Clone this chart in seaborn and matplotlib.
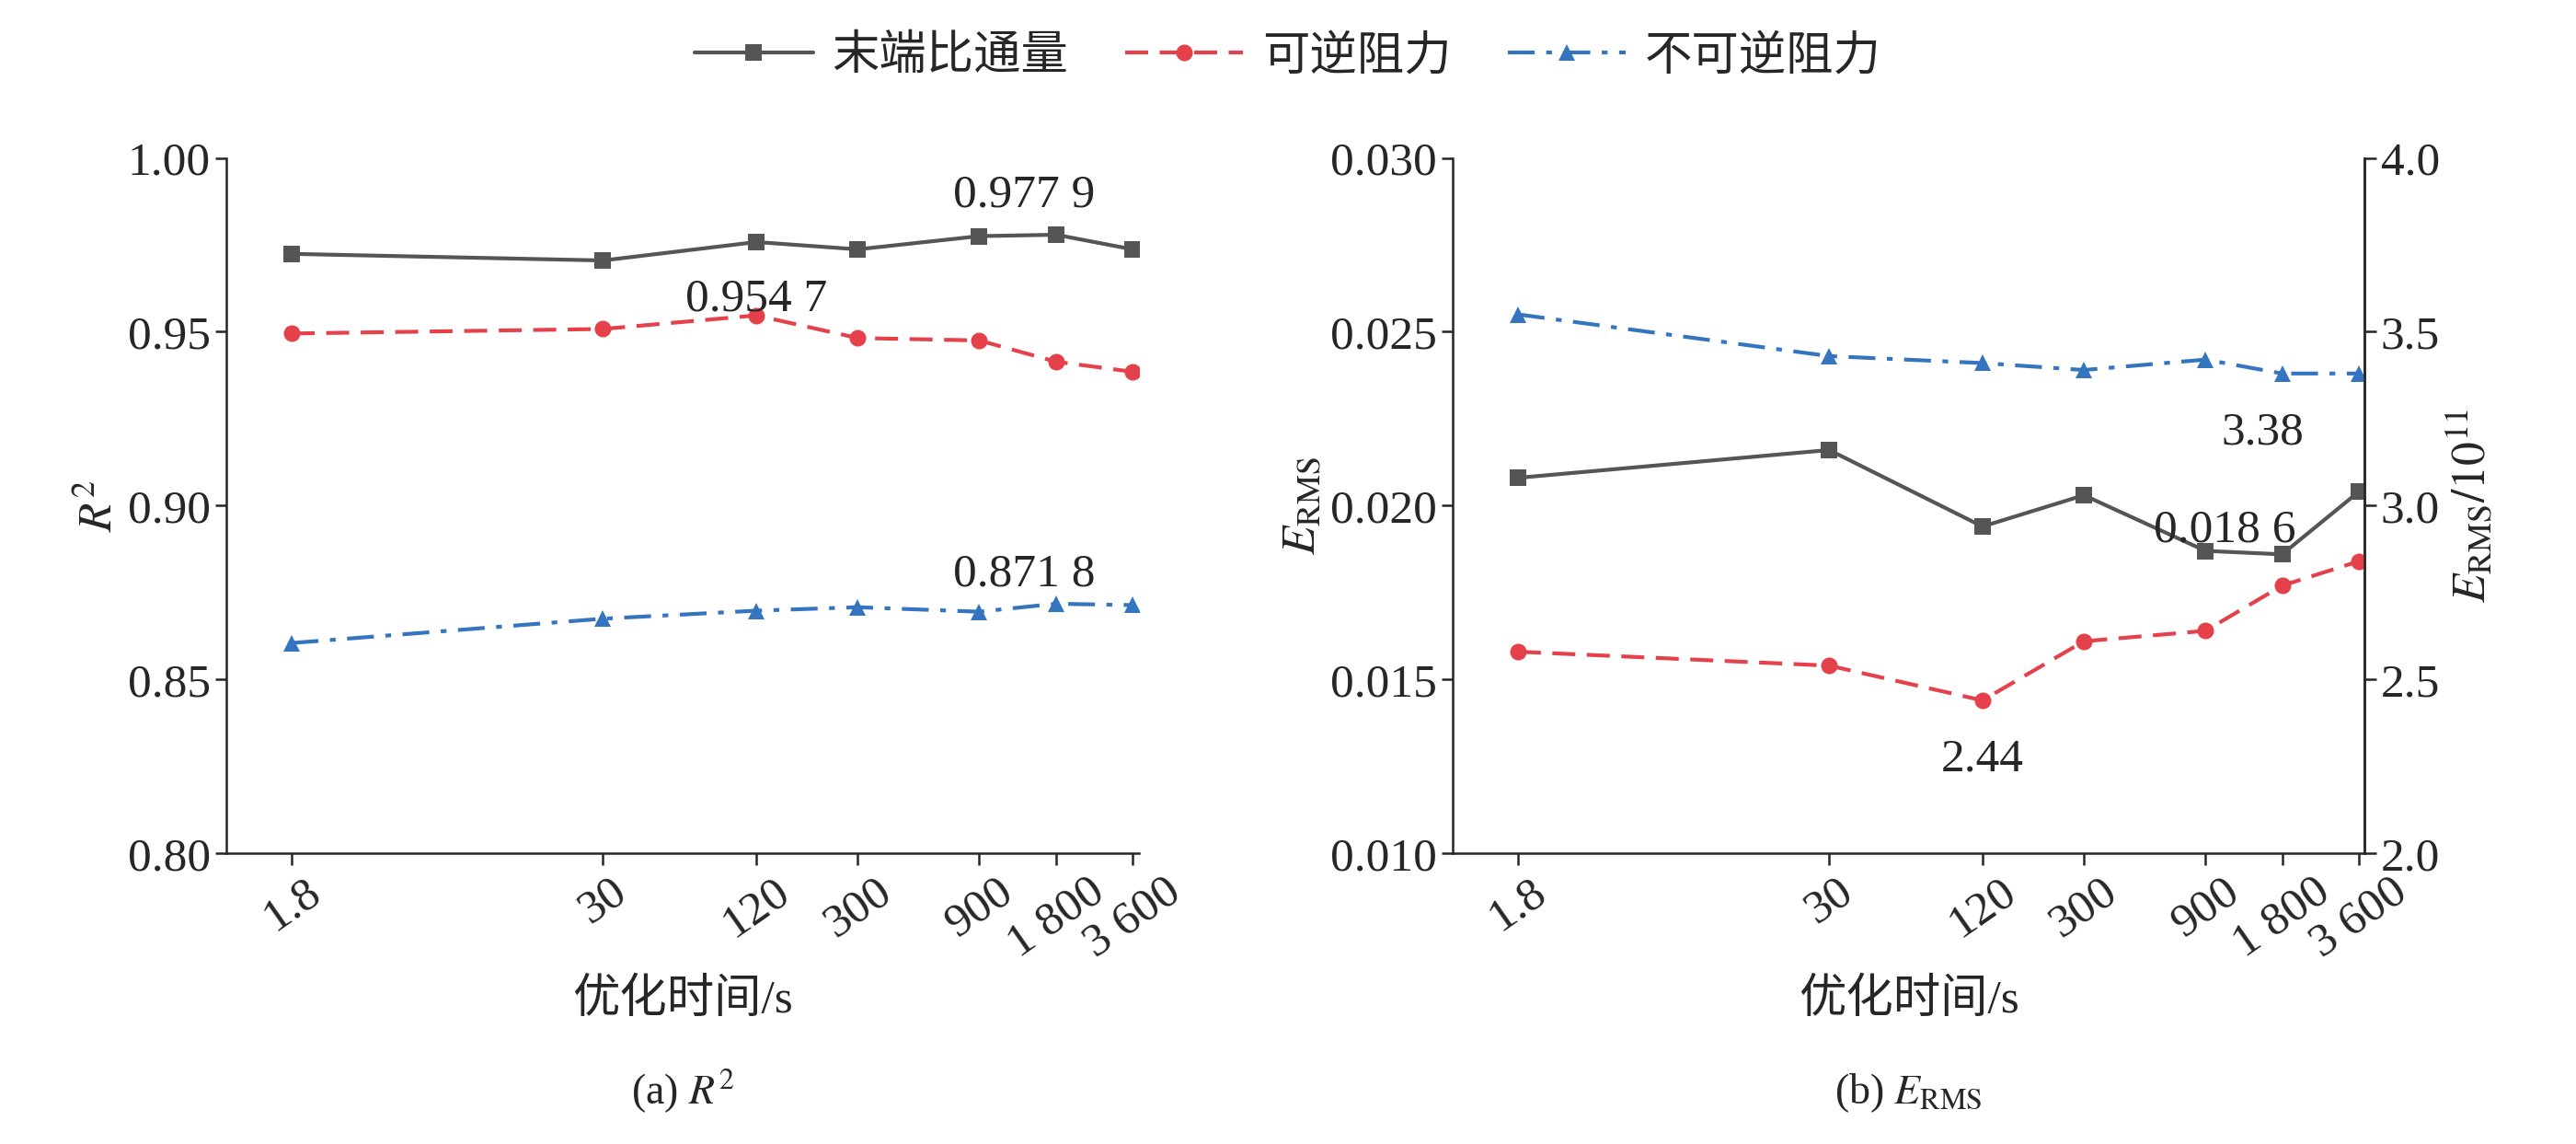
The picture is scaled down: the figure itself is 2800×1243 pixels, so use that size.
import matplotlib
matplotlib.use('Agg')
import matplotlib.pyplot as plt
import seaborn as sns
from matplotlib.ticker import FixedLocator, NullLocator

sns.set_style('ticks')
plt.rcParams['font.family'] = ['Liberation Serif', 'Noto Sans CJK SC']
plt.rcParams['mathtext.fontset'] = 'stix'

times = [1.8, 30, 120, 300, 900, 1800, 3600]
time_labels = ['1.8', '30', '120', '300', '900', '1 800', '3 600']
names = ['末端比通量', '可逆阻力', '不可逆阻力']

r2_flux = [0.9724, 0.9705, 0.9758, 0.9737, 0.9775, 0.9779, 0.9737]
r2_rev = [0.9495, 0.9508, 0.9547, 0.9482, 0.9475, 0.9414, 0.9385]
r2_irr = [0.8605, 0.8675, 0.8698, 0.8708, 0.8695, 0.8718, 0.8714]

e_flux = [0.0208, 0.0216, 0.0194, 0.0203, 0.0187, 0.0186, 0.0204]
e_rev = [2.58, 2.54, 2.44, 2.61, 2.64, 2.77, 2.84]
e_irr = [3.55, 3.43, 3.41, 3.39, 3.42, 3.38, 3.38]

c_flux, c_rev, c_irr = '#555555', '#e5414a', '#3575c0'
fs = 37

fig = plt.figure(figsize=(28, 12.43), dpi=100)
ax1 = fig.add_axes([0.088, 0.254, 0.354, 0.608])
ax2 = fig.add_axes([0.564, 0.254, 0.354, 0.608])
ax3 = ax2.twinx()


def draw(ax, y, c, ls, m, label):
    sns.lineplot(x=times, y=y, ax=ax, color=c, linestyle=ls, marker=m,
                 markersize=13, markeredgewidth=0, linewidth=3, label=label, legend=False)


draw(ax1, r2_flux, c_flux, '-', 's', names[0])
draw(ax1, r2_rev, c_rev, (0, (6, 3)), 'o', names[1])
draw(ax1, r2_irr, c_irr, (0, (7, 3, 1.5, 3)), '^', names[2])
draw(ax2, e_flux, c_flux, '-', 's', names[0])
draw(ax3, e_rev, c_rev, (0, (6, 3)), 'o', names[1])
draw(ax3, e_irr, c_irr, (0, (7, 3, 1.5, 3)), '^', names[2])

for ax in (ax1, ax2):
    ax.set_xscale('log')
    ax.set_xlim(1.0, 3800)
    ax.xaxis.set_major_locator(FixedLocator(times))
    ax.xaxis.set_minor_locator(NullLocator())
    ax.set_xticklabels(time_labels, rotation=35, fontsize=fs)
    ax.set_xlabel('优化时间/s', fontsize=fs, labelpad=10)
    ax.tick_params(axis='y', labelsize=fs, length=9, width=1.8)
    ax.tick_params(axis='x', length=9, width=1.8, pad=4)
    for s in ax.spines.values():
        s.set_linewidth(1.8)

ax1.set_ylim(0.80, 1.00)
ax1.set_yticks([0.80, 0.85, 0.90, 0.95, 1.00])
ax1.set_yticklabels(['0.80', '0.85', '0.90', '0.95', '1.00'])
ax1.set_ylabel('$R^2$', fontsize=fs)
sns.despine(ax=ax1)

ax2.set_ylim(0.010, 0.030)
ax2.set_yticks([0.010, 0.015, 0.020, 0.025, 0.030])
ax2.set_yticklabels(['0.010', '0.015', '0.020', '0.025', '0.030'])
ax2.set_ylabel('$E_{\\mathrm{RMS}}$', fontsize=fs)
ax2.spines['top'].set_visible(False)
ax3.set_ylim(2.0, 4.0)
ax3.set_yticks([2.0, 2.5, 3.0, 3.5, 4.0])
ax3.set_yticklabels(['2.0', '2.5', '3.0', '3.5', '4.0'])
ax3.set_ylabel('$E_{\\mathrm{RMS}}/10^{11}$', fontsize=fs)
ax3.tick_params(axis='y', labelsize=fs, length=9, width=1.8)
ax3.spines['top'].set_visible(False)
ax3.spines['right'].set_linewidth(1.8)

ax1.annotate('0.977 9', (1800, r2_flux[5]), xytext=(-25, 22), textcoords='offset points', ha='center', fontsize=fs)
ax1.annotate('0.954 7', (120, r2_rev[2]), xytext=(0, 4), textcoords='offset points', ha='center', fontsize=fs)
ax1.annotate('0.871 8', (1800, r2_irr[5]), xytext=(-25, 14), textcoords='offset points', ha='center', fontsize=fs)
ax2.annotate('0.018 6', (1800, e_flux[5]), xytext=(-45, 10), textcoords='offset points', ha='center', fontsize=fs)
ax3.annotate('3.38', (1800, e_irr[5]), xytext=(-15, -55), textcoords='offset points', ha='center', fontsize=fs)
ax3.annotate('2.44', (120, e_rev[2]), xytext=(0, -55), textcoords='offset points', ha='center', fontsize=fs)

fig.text(0.265, 0.035, '(a) $R^2$', ha='center', fontsize=fs - 4)
fig.text(0.741, 0.035, '(b) $E_{\\mathrm{RMS}}$', ha='center', fontsize=fs - 4)

h1, l1 = ax2.get_legend_handles_labels()
h2, l2 = ax3.get_legend_handles_labels()
fig.legend(h1 + h2, l1 + l2, loc='upper center', bbox_to_anchor=(0.5, 1.01), ncol=3,
           frameon=False, handlelength=2.5, columnspacing=1.2, handletextpad=0.4,
           prop={'family': ['Noto Sans CJK SC'], 'size': fs})

fig.savefig('out.png', dpi=100)
